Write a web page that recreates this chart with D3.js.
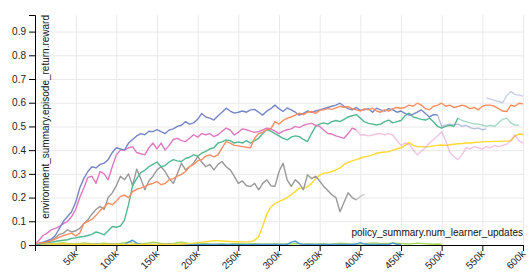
<!DOCTYPE html>
<html>
<head>
<meta charset="utf-8">
<script src="https://cdn.jsdelivr.net/npm/d3@7"></script>
<style>
  body { margin: 0; background: #fff; }
  svg { display: block; font-family: "Liberation Sans", Arial, sans-serif; }
  .grid line { stroke: #e9e9e9; }
  .grid .domain { display: none; }
  .axis text { font-size: 10px; fill: #222; }
  .axis path, .axis line { stroke: #000; }
  .line { fill: none; stroke-width: 1.4; stroke-linejoin: round; }
  .label { font-size: 10px; fill: #111; }
</style>
</head>
<body>
<svg width="530" height="273"></svg>
<script>
// sampling grid of the runs: one value every 5k learner updates
var STEP = 5000;

var xTicks = [50000, 100000, 150000, 200000, 250000, 300000, 350000, 400000, 450000, 500000, 550000, 600000];

// runs (value lists start at the given step)
var blueStart = 0;
var blueVals = [0.005,0.008,0.012,0.018,0.025,0.04,0.07,0.10,0.12,0.14,
  0.18,0.24,0.28,0.31,0.33,0.325,0.34,0.345,0.36,0.39,
  0.41,0.405,0.40,0.43,0.445,0.46,0.47,0.465,0.48,0.478,
  0.487,0.478,0.47,0.485,0.49,0.50,0.505,0.52,0.51,0.515,
  0.53,0.555,0.54,0.535,0.527,0.545,0.56,0.577,0.565,0.556,
  0.56,0.565,0.56,0.57,0.572,0.56,0.548,0.565,0.575,0.59,
  0.575,0.563,0.578,0.57,0.56,0.548,0.555,0.565,0.56,0.565,
  0.57,0.575,0.58,0.585,0.59,0.598,0.585,0.575,0.57,0.58,
  0.568,0.57,0.575,0.56,0.577,0.57,0.565,0.575,0.57,0.56,
  0.565,0.555,0.548,0.552,0.56,0.57,0.555,0.54,0.55,0.548];
var blueFadeAStart = 495000;
var blueFadeAVals = [0.548,0.50,0.505,0.51,0.506,0.51,0.50,0.505,0.495,0.49,0.493,0.486,0.49];
var blueFadeBStart = 555000;
var blueFadeBVals = [0.62,0.615,0.61,0.605,0.60,0.63,0.647,0.635,0.632,0.628];

var orangeStart = 0;
var orangeVals = [0.005,0.008,0.01,0.012,0.018,0.025,0.033,0.04,0.045,0.05,
  0.038,0.05,0.09,0.10,0.108,0.125,0.145,0.16,0.177,0.17,
  0.185,0.205,0.21,0.20,0.225,0.235,0.24,0.247,0.255,0.26,
  0.268,0.254,0.26,0.275,0.28,0.29,0.298,0.31,0.33,0.34,
  0.355,0.36,0.375,0.38,0.372,0.38,0.41,0.436,0.43,0.42,
  0.418,0.415,0.412,0.41,0.45,0.47,0.475,0.486,0.49,0.52,
  0.51,0.525,0.535,0.54,0.548,0.556,0.55,0.56,0.563,0.555,
  0.568,0.57,0.575,0.572,0.578,0.585,0.58,0.584,0.575,0.57,
  0.565,0.575,0.57,0.577,0.565,0.56,0.57,0.565,0.575,0.58,
  0.577,0.58,0.59,0.585,0.598,0.59,0.575,0.57,0.585,0.59,
  0.598,0.585,0.59,0.58,0.584,0.59,0.585,0.575,0.58,0.57,
  0.585,0.59,0.59,0.585,0.575,0.565,0.563,0.59,0.585,0.598,0.595];

var greenStart = 0;
var greenVals = [0.005,0.006,0.008,0.01,0.012,0.015,0.018,0.02,0.022,0.028,
  0.03,0.034,0.036,0.04,0.045,0.055,0.05,0.043,0.06,0.078,
  0.075,0.08,0.105,0.17,0.25,0.28,0.305,0.315,0.33,0.34,
  0.35,0.33,0.335,0.35,0.36,0.355,0.352,0.365,0.37,0.38,
  0.375,0.387,0.395,0.405,0.41,0.43,0.435,0.443,0.44,0.43,
  0.435,0.43,0.44,0.43,0.44,0.45,0.47,0.486,0.48,0.47,
  0.46,0.45,0.443,0.455,0.46,0.457,0.445,0.436,0.47,0.50,
  0.51,0.515,0.51,0.52,0.525,0.52,0.53,0.54,0.545,0.55,
  0.535,0.52,0.513,0.51,0.506,0.51,0.52,0.527,0.515,0.52,
  0.525,0.545,0.556,0.54,0.535,0.53,0.527,0.535,0.52,0.50,
  0.493,0.50,0.505,0.50,0.535];
var greenFadeStart = 520000;
var greenFadeVals = [0.535,0.525,0.52,0.515,0.51,0.51,0.506,0.50,0.505,0.50,0.515,0.53,0.535,0.515,0.506,0.505];

var pinkStart = 0;
var pinkVals = [0.005,0.02,0.04,0.05,0.064,0.07,0.078,0.09,0.10,0.12,
  0.15,0.20,0.24,0.285,0.29,0.26,0.31,0.30,0.275,0.33,
  0.38,0.40,0.40,0.41,0.415,0.39,0.385,0.38,0.41,0.43,
  0.405,0.43,0.40,0.42,0.445,0.45,0.44,0.436,0.45,0.465,
  0.455,0.47,0.465,0.47,0.457,0.465,0.48,0.493,0.485,0.464,
  0.475,0.49,0.486,0.48,0.475,0.478,0.485,0.493,0.49,0.48,
  0.47,0.48,0.486,0.49,0.50,0.495,0.505,0.51,0.513,0.505,
  0.50,0.485,0.47,0.468,0.46,0.455,0.45,0.47,0.493,0.486];
var pinkFadeStart = 395000;
var pinkFadeVals = [0.486,0.464,0.465,0.46,0.464,0.468,0.47,0.465,0.47,0.464,
  0.44,0.42,0.43,0.425,0.40,0.38,0.395,0.41,0.43,0.445,
  0.46,0.478,0.44,0.39,0.373,0.36,0.38,0.41,0.405,0.415,
  0.41,0.405,0.415,0.41,0.42,0.415,0.42,0.425,0.44,0.464,0.44,0.43];

var greyStart = 0;
var greyVals = [0.003,0.005,0.01,0.015,0.02,0.03,0.045,0.05,0.064,0.055,
  0.06,0.07,0.09,0.107,0.13,0.15,0.163,0.15,0.20,0.22,
  0.25,0.29,0.275,0.30,0.25,0.32,0.28,0.233,0.27,0.29,
  0.317,0.33,0.31,0.28,0.26,0.30,0.345,0.317,0.33,0.345,
  0.373,0.35,0.33,0.34,0.317,0.34,0.352,0.33,0.317,0.29,
  0.26,0.27,0.25,0.247,0.26,0.233,0.26,0.275,0.25,0.247,
  0.31,0.345,0.275,0.247,0.275,0.26,0.233,0.296,0.28,0.29,
  0.27,0.247,0.23,0.212,0.20,0.14,0.18,0.22,0.20,0.19];
var greyFadeStart = 395000;
var greyFadeVals = [0.19,0.205,0.215];

var yellowStart = 0;
var yellowVals = [0.006,0.005,0.004,0.005,0.004,0.003,0.004,0.005,0.004,0.003,
  0.003,0.004,0.003,0.002,0.003,0.002,0.002,0.003,0.002,0.002,
  0.002,0.003,0.002,0.002,0.003,0.002,0.002,0.002,0.003,0.002,
  0.002,0.002,0.003,0.002,0.002,0.003,0.004,0.005,0.006,0.008,
  0.01,0.012,0.014,0.016,0.018,0.018,0.017,0.016,0.015,0.014,
  0.014,0.013,0.013,0.013,0.02,0.035,0.08,0.13,0.16,0.175,
  0.184,0.19,0.20,0.212,0.225,0.24,0.24,0.245,0.26,0.28,
  0.295,0.303,0.305,0.31,0.317,0.325,0.34,0.348,0.355,0.36,
  0.366,0.372,0.375,0.38,0.387,0.39,0.392,0.394,0.40,0.405,
  0.41,0.42,0.432,0.42,0.415,0.415,0.414,0.415,0.418,0.42,
  0.422,0.42,0.423,0.425,0.427,0.428,0.43,0.43,0.432,0.434,
  0.435,0.436,0.436,0.437,0.437,0.438,0.438,0.44,0.46,0.468,0.466];

var limeStart = 0;
var limeVals = [0.004,0.006,0.008,0.01,0.006,0.005,0.008,0.01,0.007,0.005,
  0.004,0.006,0.009,0.007,0.005,0.004,0.005,0.008,0.006,0.004,
  0.005,0.007,0.01,0.012,0.008,0.006,0.005,0.007,0.009,0.012,
  0.01,0.007,0.005,0.004,0.006,0.01,0.012,0.009,0.006,0.005,
  0.004,0.005,0.006,0.004,0.003,0.004,0.005,0.003,0.004,0.006,
  0.005,0.004,0.003,0.004,0.005,0.004,0.003,0.004,0.003,0.005,
  0.004,0.003,0.005,0.004,0.006,0.004,0.003,0.005,0.004,0.003,
  0.004,0.005,0.003,0.004,0.006,0.008,0.007,0.005,0.004,0.003,
  0.004,0.005,0.007,0.009,0.008,0.006,0.005,0.007,0.009,0.008,
  0.006,0.005,0.004,0.006,0.008,0.007,0.005,0.004,0.003,0.004,0.003];

var skyStart = 0;
var skyVals = [0.003,0.004,0.003,0.002,0.003,0.002,0.002,0.003,0.002,0.002,
  0.002,0.003,0.002,0.002,0.002,0.003,0.002,0.002,0.002,0.002,
  0.002,0.003,0.002,0.012,0.02,0.008,0.003,0.002,0.002,0.002,
  0.002,0.002,0.002,0.003,0.002,0.002,0.002,0.002,0.002,0.002,
  0.002,0.002,0.002,0.002,0.002,0.002,0.002,0.002,0.002,0.002,
  0.002,0.002,0.002,0.002,0.002,0.002,0.002,0.002,0.002,0.002,
  0.002,0.002,0.002,0.012,0.016,0.006,0.002,0.002,0.002,0.002,
  0.002,0.002,0.002,0.002,0.002,0.002,0.002,0.002,0.002,0.004,
  0.01,0.004,0.002,0.002,0.002,0.002,0.002,0.002,0.008,0.003,0.002];

var series = [
  {values: limeVals,       start: limeStart,       color: "#a6d854", opacity: 1},
  {values: skyVals,        start: skyStart,        color: "#4a98e0", opacity: 1},
  {values: yellowVals,     start: yellowStart,     color: "#ffd92f", opacity: 1},
  {values: greyFadeVals,   start: greyFadeStart,   color: "#999999", opacity: 0.5},
  {values: greyVals,       start: greyStart,       color: "#999999", opacity: 1},
  {values: pinkFadeVals,   start: pinkFadeStart,   color: "#e78ac3", opacity: 0.5},
  {values: greenFadeVals,  start: greenFadeStart,  color: "#52b890", opacity: 0.5},
  {values: blueFadeAVals,  start: blueFadeAStart,  color: "#7586c6", opacity: 0.5},
  {values: blueFadeBVals,  start: blueFadeBStart,  color: "#7586c6", opacity: 0.4},
  {values: greenVals,      start: greenStart,      color: "#52b890", opacity: 1},
  {values: pinkVals,       start: pinkStart,       color: "#e078c0", opacity: 1},
  {values: blueVals,       start: blueStart,       color: "#7586c6", opacity: 1},
  {values: orangeVals,     start: orangeStart,     color: "#fc8d62", opacity: 1}
];

var svg = d3.select("svg"),
    margin = {top: 15, right: 7, bottom: 28, left: 35},
    width = svg.attr("width") - margin.left - margin.right,
    height = svg.attr("height") - margin.top - margin.bottom;

var x = d3.scaleLinear().domain([0, 600000]).range([0, width]);
var y = d3.scaleLinear().domain([0, 0.97]).range([height, 0]);

var g = svg.append("g")
    .attr("transform", "translate(" + margin.left + "," + margin.top + ")");

// grid
g.append("g")
    .attr("class", "grid")
    .call(d3.axisLeft(y).ticks(10).tickSize(-width).tickFormat(""));
g.append("g")
    .attr("class", "grid")
    .attr("transform", "translate(0," + height + ")")
    .call(d3.axisBottom(x).tickValues(xTicks).tickSize(-height).tickFormat(""));

var line = d3.line()
    .x(function(d) { return x(d[0]); })
    .y(function(d) { return y(d[1]); });

series.forEach(function(s) {
  var pts = s.values.map(function(v, i) { return [s.start + i * STEP, v]; });
  g.append("path")
      .datum(pts)
      .attr("class", "line")
      .attr("stroke", s.color)
      .attr("stroke-opacity", s.opacity)
      .attr("d", line);
});

g.append("g")
    .attr("class", "axis")
    .call(d3.axisLeft(y).ticks(10).tickFormat(d3.format("~g")));

var xAxis = g.append("g")
    .attr("class", "axis")
    .attr("transform", "translate(0," + height + ")")
    .call(d3.axisBottom(x).tickValues(xTicks).tickFormat(function(d) { return d / 1000 + "k"; }));

xAxis.selectAll(".tick text")
    .attr("y", 0)
    .attr("dy", "0.35em")
    .attr("text-anchor", "end")
    .attr("transform", "translate(0,7) rotate(-45)");

g.append("text")
    .attr("class", "label")
    .attr("text-anchor", "end")
    .attr("transform", "translate(14,0) rotate(-90)")
    .text("environment_summary.episode_return.reward");

g.append("text")
    .attr("class", "label")
    .attr("text-anchor", "end")
    .attr("x", width)
    .attr("y", height - 9)
    .text("policy_summary.num_learner_updates");
</script>
</body>
</html>
